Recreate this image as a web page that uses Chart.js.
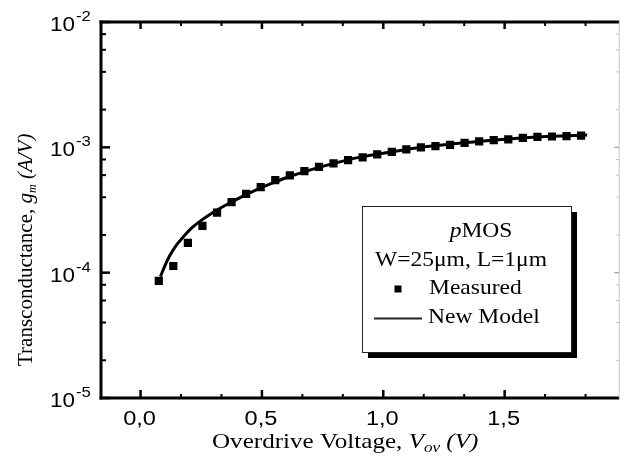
<!DOCTYPE html>
<html>
<head>
<meta charset="utf-8">
<script src="https://cdn.jsdelivr.net/npm/chart.js@4.4.1/dist/chart.umd.min.js"></script>
<style>
    html, body { margin: 0; padding: 0; background: #fff; }
    canvas { display: block; }
</style>
</head>
<body>
<canvas id="gmChart" width="625" height="460"></canvas>
<script>
// pMOS, W=25um L=1um : measured transconductance vs overdrive voltage
const vovMeasured = [0.075, 0.135, 0.195, 0.255, 0.315, 0.375, 0.435, 0.495, 0.555, 0.615,
    0.675, 0.735, 0.795, 0.855, 0.915, 0.975, 1.035, 1.095, 1.155, 1.215,
    1.275, 1.335, 1.395, 1.455, 1.515, 1.575, 1.635, 1.695, 1.755, 1.815];
const gmMeasured = [8.6e-5, 1.13e-4, 1.73e-4, 2.36e-4, 3.01e-4, 3.66e-4, 4.26e-4, 4.82e-4, 5.48e-4, 5.97e-4,
    6.46e-4, 6.99e-4, 7.44e-4, 7.91e-4, 8.31e-4, 8.78e-4, 9.21e-4, 9.62e-4, 9.98e-4, 1.023e-3,
    1.047e-3, 1.086e-3, 1.115e-3, 1.141e-3, 1.156e-3, 1.19e-3, 1.21e-3, 1.22e-3, 1.23e-3, 1.24e-3];

// model curve
const vovModel = [0.082, 0.10, 0.12, 0.15, 0.18, 0.21, 0.25, 0.30, 0.35, 0.40,
    0.45, 0.50, 0.55, 0.60, 0.70, 0.80, 0.90, 1.00, 1.10, 1.20,
    1.30, 1.40, 1.50, 1.60, 1.70, 1.84];
const gmModel = [9.29e-5, 1.135e-4, 1.365e-4, 1.679e-4, 1.972e-4, 2.265e-4, 2.612e-4, 3.034e-4, 3.451e-4, 3.882e-4,
    4.325e-4, 4.786e-4, 5.248e-4, 5.715e-4, 6.607e-4, 7.482e-4, 8.318e-4, 8.974e-4, 9.661e-4, 1.023e-3,
    1.072e-3, 1.117e-3, 1.161e-3, 1.199e-3, 1.227e-3, 1.253e-3];

// axes
const xMajorTicks = [0, 0.5, 1.0, 1.5];
const xTickLabels = ['0,0', '0,5', '1,0', '1,5'];
const xMinorTicks = [1 / 6, 2 / 6, 4 / 6, 5 / 6, 7 / 6, 8 / 6, 10 / 6, 11 / 6];
const yDecades = [1e-5, 1e-4, 1e-3, 1e-2];
const yExponents = ['-5', '-4', '-3', '-2'];
const yMinorFactors = [2, 4, 6, 8];

const SANS = '"Liberation Sans", Arial, sans-serif';
const SERIF = '"Liberation Serif", "Times New Roman", serif';

// draws a list of text runs on one baseline, each run stretched horizontally by sx
function drawRuns(ctx, runs, x, y, sx) {
    let cx = x;
    runs.forEach(r => {
        ctx.font = r.font;
        ctx.save();
        ctx.translate(cx, y + (r.dy || 0));
        ctx.scale(sx, 1);
        ctx.fillText(r.text, 0, 0);
        ctx.restore();
        cx += ctx.measureText(r.text).width * sx;
    });
    return cx - x;
}

function runsWidth(ctx, runs, sx) {
    let w = 0;
    runs.forEach(r => {
        ctx.font = r.font;
        w += ctx.measureText(r.text).width * sx;
    });
    return w;
}

const framePlugin = {
    id: 'frame',
    afterDraw(chart) {
        const { ctx, chartArea: a } = chart;
        const xs = chart.scales.x;
        const ys = chart.scales.y;
        ctx.save();
        ctx.fillStyle = '#000';
        ctx.strokeStyle = '#000';
        ctx.lineCap = 'butt';

        // inward ticks on all four sides
        const tick = (x1, y1, x2, y2, w, color) => {
            ctx.beginPath();
            ctx.strokeStyle = color || '#000';
            ctx.lineWidth = w;
            ctx.moveTo(x1, y1);
            ctx.lineTo(x2, y2);
            ctx.stroke();
        };
        xMajorTicks.forEach(v => {
            const px = xs.getPixelForValue(v);
            tick(px, a.bottom, px, a.bottom - 8, 2.5);
            tick(px, a.top, px, a.top + 7, 2.5);
        });
        xMinorTicks.forEach(v => {
            const px = xs.getPixelForValue(v);
            tick(px, a.bottom, px, a.bottom - 4, 2);
            tick(px, a.top, px, a.top + 4, 2);
        });
        yDecades.forEach(d => {
            const py = ys.getPixelForValue(d);
            tick(a.left, py, a.left + 9, py, 2.5);
            tick(a.right, py, a.right - 5, py, 1.5, '#aaa');
            if (d < 1e-2) {
                yMinorFactors.forEach(m => {
                    const pm = ys.getPixelForValue(d * m);
                    tick(a.left, pm, a.left + 5, pm, 2);
                    tick(a.right, pm, a.right - 3, pm, 1, '#bbb');
                });
            }
        });

        // frame
        tick(a.left, a.top - 1.5, a.left, a.bottom + 1.5, 3);
        tick(a.left - 1.5, a.bottom, a.right, a.bottom, 3);
        tick(a.left - 1.5, a.top, a.right, a.top, 3);
        tick(a.right, a.top, a.right, a.bottom, 1, '#c8c8c8');

        // x tick labels
        ctx.fillStyle = '#000';
        xMajorTicks.forEach((v, i) => {
            const px = xs.getPixelForValue(v);
            const runs = [{ text: xTickLabels[i], font: '20px ' + SANS }];
            const w = runsWidth(ctx, runs, 1.18);
            drawRuns(ctx, runs, px - w / 2 - 1, 425, 1.18);
        });

        // y tick labels 10^n
        yDecades.forEach((d, i) => {
            const py = ys.getPixelForValue(d);
            drawRuns(ctx, [{ text: '10', font: '20px ' + SANS }], 50, py + 9, 1.12);
            drawRuns(ctx, [{ text: yExponents[i], font: '15px ' + SANS }], 76, py - 1, 1.12);
        });

        // x axis title
        drawRuns(ctx, [
            { text: 'Overdrive Voltage, ', font: '22px ' + SERIF },
            { text: 'V', font: 'italic 22px ' + SERIF },
            { text: 'ov', font: 'italic 15px ' + SERIF, dy: 4 },
            { text: ' (V)', font: 'italic 22px ' + SERIF }
        ], 212, 448, 1.14);

        // y axis title, rotated
        ctx.save();
        ctx.translate(32, 366);
        ctx.rotate(-Math.PI / 2);
        drawRuns(ctx, [
            { text: 'Transconductance, ', font: '21px ' + SERIF },
            { text: 'g', font: 'italic 21px ' + SERIF },
            { text: 'm', font: 'italic 12px ' + SERIF, dy: 4 },
            { text: ' (A/V)', font: 'italic 21px ' + SERIF }
        ], 0, 0, 1);
        ctx.restore();

        // legend box with drop shadow
        const bx = 362, by = 206, bw = 209, bh = 146;
        ctx.fillStyle = '#000';
        ctx.fillRect(bx + 6, by + 6, bw, bh);
        ctx.fillStyle = '#fff';
        ctx.fillRect(bx, by, bw, bh);
        ctx.strokeStyle = '#222';
        ctx.lineWidth = 1;
        ctx.strokeRect(bx + 0.5, by + 0.5, bw, bh);

        ctx.fillStyle = '#000';
        const head = [
            { text: 'p', font: 'italic 21px ' + SERIF },
            { text: 'MOS', font: '21px ' + SERIF }
        ];
        const hw = runsWidth(ctx, head, 1.12);
        drawRuns(ctx, head, 481 - hw / 2, 237, 1.12);
        drawRuns(ctx, [{ text: 'W=25\u03bcm, L=1\u03bcm', font: '21px ' + SERIF }], 375, 266, 1.12);

        const side = 7;
        ctx.fillRect(398 - side / 2, 289 - side / 2, side, side);
        drawRuns(ctx, [{ text: chart.data.datasets[1].label, font: '21px ' + SERIF }], 429, 294, 1.12);

        ctx.beginPath();
        ctx.lineWidth = 2;
        ctx.moveTo(374, 318.5);
        ctx.lineTo(422, 318.5);
        ctx.stroke();
        drawRuns(ctx, [{ text: chart.data.datasets[0].label, font: '21px ' + SERIF }], 428, 323, 1.12);

        ctx.restore();
    }
};

function buildChart() {
    const canvas = document.getElementById('gmChart');
    new Chart(canvas.getContext('2d'), {
        type: 'scatter',
        data: {
            datasets: [
                {
                    label: 'New Model',
                    data: vovModel.map((v, i) => ({ x: v, y: gmModel[i] })),
                    showLine: true,
                    borderColor: '#000',
                    borderWidth: 3,
                    pointRadius: 0,
                    cubicInterpolationMode: 'monotone',
                    order: 2
                },
                {
                    label: 'Measured',
                    data: vovMeasured.map((v, i) => ({ x: v, y: gmMeasured[i] })),
                    showLine: false,
                    pointStyle: 'rect',
                    pointRadius: 5.8,
                    backgroundColor: '#000',
                    borderColor: '#000',
                    borderWidth: 0,
                    order: 1
                }
            ]
        },
        options: {
            responsive: false,
            animation: false,
            devicePixelRatio: 1,
            layout: { padding: { left: 101, top: 22, right: 1, bottom: 62 } },
            scales: {
                x: { type: 'linear', min: -0.163, max: 1.972, display: false },
                y: { type: 'logarithmic', min: 1e-5, max: 1e-2, display: false }
            },
            plugins: {
                legend: { display: false },
                tooltip: { enabled: false }
            }
        },
        plugins: [framePlugin]
    });
}

// make sure the local fonts are ready before the canvas text is drawn
Promise.all([
    document.fonts.load('20px "Liberation Sans"'),
    document.fonts.load('20px "Liberation Serif"'),
    document.fonts.load('italic 20px "Liberation Serif"')
]).then(buildChart, buildChart);
</script>
</body>
</html>
